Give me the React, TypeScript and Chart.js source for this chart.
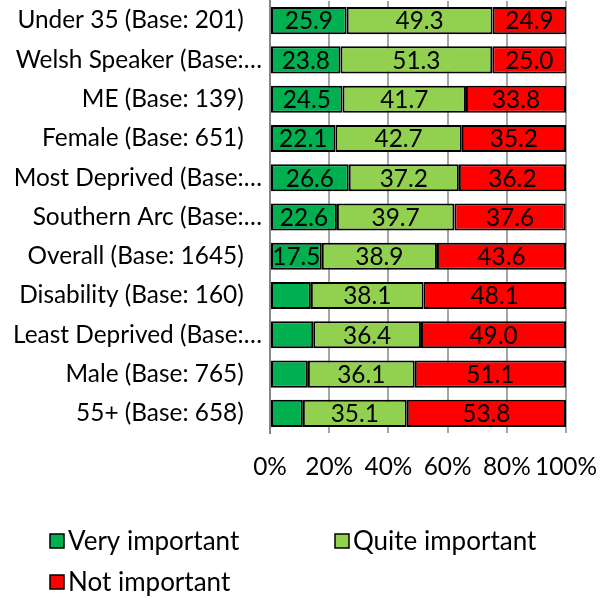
import React, { useEffect, useRef } from "react";
import { Chart, registerables } from "chart.js";

Chart.register(...registerables);

const categories = [
  "Under 35 (Base: 201)",
  "Welsh Speaker (Base:…",
  "ME (Base: 139)",
  "Female (Base: 651)",
  "Most Deprived (Base:…",
  "Southern Arc (Base:…",
  "Overall (Base: 1645)",
  "Disability (Base: 160)",
  "Least Deprived (Base:…",
  "Male (Base: 765)",
  "55+ (Base: 658)",
];
const veryImportant = [25.9, 23.8, 24.5, 22.1, 26.6, 22.6, 17.5, 13.8, 14.6, 12.8, 11.1];
const quiteImportant = [49.3, 51.3, 41.7, 42.7, 37.2, 39.7, 38.9, 38.1, 36.4, 36.1, 35.1];
const notImportant = [24.9, 25.0, 33.8, 35.2, 36.2, 37.6, 43.6, 48.1, 49.0, 51.1, 53.8];
const seriesNames = ["Very important", "Quite important", "Not important"];
const seriesColors = ["#00B050", "#92D050", "#FF0000"];
const xStep = 20;

const FONT = "Lato";
const FS = 24.4;

const valueLabels = {
  id: "valueLabels",
  afterDatasetsDraw(chart: any) {
    const ctx = chart.ctx;
    ctx.save();
    ctx.font = `${FS}px ${FONT}`;
    ctx.fillStyle = "#000";
    ctx.textAlign = "center";
    ctx.textBaseline = "middle";
    chart.data.datasets.forEach((ds: any, di: number) => {
      const meta = chart.getDatasetMeta(di);
      meta.data.forEach((bar: any, i: number) => {
        const v = ds.data[i];
        if (v < 15) return;
        const cx = (bar.x + bar.base) / 2;
        ctx.fillText(v.toFixed(1), cx, bar.y + 1);
      });
    });
    ctx.restore();
  },
};

const customLegend = {
  id: "customLegend",
  afterDraw(chart: any) {
    const ctx = chart.ctx;
    ctx.save();
    ctx.font = `26px ${FONT}`;
    ctx.textBaseline = "middle";
    ctx.textAlign = "left";
    const pos = [
      [50, 541],
      [335, 541],
      [50, 582],
    ];
    chart.data.datasets.forEach((ds: any, i: number) => {
      const [x, y] = pos[i];
      ctx.fillStyle = ds.backgroundColor;
      ctx.fillRect(x, y - 7, 14, 14);
      ctx.strokeStyle = "#000";
      ctx.lineWidth = 1.5;
      ctx.strokeRect(x, y - 7, 14, 14);
      ctx.fillStyle = "#000";
      ctx.fillText(ds.label, x + 18, y + 1);
    });
    ctx.restore();
  },
};

export default function App() {
  const ref = useRef<HTMLCanvasElement>(null);
  useEffect(() => {
    document.body.style.margin = "0";
    const chart = new Chart(ref.current!, {
      type: "bar",
      data: {
        labels: categories,
        datasets: [veryImportant, quiteImportant, notImportant].map((d, i) => ({
          label: seriesNames[i],
          data: d,
          backgroundColor: seriesColors[i],
          borderColor: "#000",
          borderWidth: 2,
          borderSkipped: false,
          barPercentage: 0.69,
          categoryPercentage: 1,
        })),
      },
      options: {
        indexAxis: "y",
        animation: false,
        responsive: true,
        maintainAspectRatio: false,
        layout: { padding: { top: 1, right: 40, bottom: 0, left: 0 } },
        plugins: {
          legend: { display: false },
          tooltip: { enabled: false },
        },
        scales: {
          x: {
            stacked: true,
            min: 0,
            max: 100,
            afterFit: (s: any) => {
              s.height = 170;
              s.paddingLeft = 0;
              s.paddingRight = 0;
            },
            grid: { display: true, drawOnChartArea: true, color: "#A6A6A6", lineWidth: 2, drawTicks: false },
            border: { display: false },
            ticks: {
              stepSize: xStep,
              autoSkip: false,
              padding: 20,
              color: "#000",
              font: { family: FONT, size: FS },
              maxRotation: 0,
              callback: (v: any) => v + "%",
            },
          },
          y: {
            stacked: true,
            afterFit: (s: any) => {
              s.width = 270;
              s.paddingTop = 0;
              s.paddingBottom = 0;
            },
            grid: { display: false, drawTicks: false },
            border: { display: true, color: "#868686", width: 2 },
            ticks: {
              padding: 8,
              color: "#000",
              font: { family: FONT, size: FS },
              autoSkip: false,
              callback: function (this: any, v: any) {
                const l = categories[v];
                return l.endsWith("…") ? l : l + "\u2003";
              },
            },
          },
        },
      },
      plugins: [valueLabels, customLegend],
    });
    return () => chart.destroy();
  }, []);
  return (
    <div style={{ position: "absolute", left: 0, top: 0, width: 606, height: 603 }}>
      <canvas ref={ref} />
    </div>
  );
}
